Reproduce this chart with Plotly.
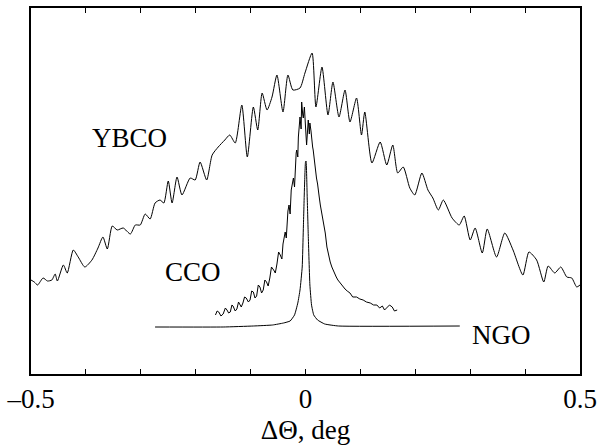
import plotly.graph_objects as go

# YBCO rocking curve (x in deg, intensity in arbitrary units)
ybco_x = [-0.500, -0.494, -0.488, -0.478, -0.470, -0.462, -0.456, -0.452, -0.441, -0.434,
          -0.423, -0.414, -0.402, -0.389, -0.378, -0.369, -0.361, -0.352, -0.343, -0.332,
          -0.319, -0.310, -0.301, -0.292, -0.283, -0.274, -0.265, -0.258, -0.250, -0.243,
          -0.234, -0.225, -0.210, -0.201, -0.192, -0.180, -0.170, -0.159, -0.147, -0.138,
          -0.128, -0.116, -0.106, -0.095, -0.087, -0.079, -0.070, -0.061, -0.052, -0.041,
          -0.032, -0.023, -0.010, -0.001, 0.012, 0.019, 0.030, 0.041, 0.050, 0.061,
          0.072, 0.081, 0.093, 0.102, 0.108, 0.121, 0.136, 0.148, 0.159, 0.168,
          0.178, 0.190, 0.199, 0.212, 0.223, 0.232, 0.242, 0.251, 0.267, 0.280,
          0.289, 0.300, 0.309, 0.322, 0.331, 0.348, 0.363, 0.378, 0.396, 0.407,
          0.421, 0.434, 0.442, 0.454, 0.465, 0.476, 0.485, 0.494, 0.500]
ybco_y = [97, 95, 92, 99, 96, 97, 103, 96, 112, 104,
          127, 120, 110, 117, 129, 140, 128, 151, 147, 149,
          143, 152, 152, 163, 158, 174, 177, 174, 196, 174,
          200, 182, 199, 197, 215, 197, 222, 230, 237, 242,
          234, 272, 220, 270, 247, 284, 267, 280, 302, 265,
          302, 287, 289, 304, 324, 270, 310, 262, 295, 260,
          287, 255, 279, 242, 265, 214, 235, 212, 232, 204,
          210, 189, 182, 204, 187, 179, 167, 177, 159, 152,
          161, 137, 149, 124, 148, 120, 144, 127, 102, 125,
          117, 95, 111, 104, 110, 100, 99, 90, 92]

# CCO rocking curve
cco_x = [-0.164, -0.161, -0.158, -0.154, -0.150, -0.146, -0.143, -0.140, -0.137, -0.134,
         -0.132, -0.128, -0.125, -0.122, -0.120, -0.117, -0.114, -0.111, -0.108, -0.104,
         -0.101, -0.098, -0.095, -0.092, -0.089, -0.086, -0.083, -0.080, -0.077, -0.074,
         -0.071, -0.068, -0.065, -0.062, -0.058, -0.055, -0.052, -0.049, -0.046, -0.043,
         -0.041, -0.039, -0.037, -0.035, -0.034, -0.032, -0.030, -0.028, -0.026, -0.024,
         -0.022, -0.020, -0.019, -0.017, -0.016, -0.014, -0.013, -0.011, -0.010, -0.008,
         -0.007, -0.005, -0.004, -0.002, -0.001, 0.001, 0.002, 0.004, 0.005, 0.007,
         0.008, 0.010, 0.011, 0.013, 0.014, 0.016, 0.017, 0.019, 0.020, 0.022,
         0.023, 0.025, 0.027, 0.029, 0.030, 0.032, 0.033, 0.035, 0.036, 0.039,
         0.041, 0.043, 0.045, 0.048, 0.050, 0.053, 0.056, 0.059, 0.063, 0.067,
         0.072, 0.076, 0.081, 0.086, 0.093, 0.099, 0.105, 0.111, 0.118, 0.124,
         0.130, 0.135, 0.140, 0.144, 0.148, 0.153, 0.158, 0.162, 0.167]
cco_y = [62, 66, 65, 61, 63, 69, 67, 64, 65, 72,
         71, 66, 68, 75, 73, 70, 74, 80, 79, 75,
         77, 86, 85, 79, 81, 92, 90, 84, 87, 97,
         95, 91, 99, 110, 107, 104, 113, 125, 122, 118,
         133, 141, 145, 139, 154, 166, 172, 163, 187, 195,
         199, 190, 210, 224, 227, 220, 240, 252, 260, 248,
         275, 262, 259, 270, 254, 241, 232, 250, 257, 243,
         254, 246, 237, 230, 227, 215, 210, 204, 199, 193,
         187, 180, 172, 166, 160, 158, 152, 149, 144, 130,
         124, 121, 115, 110, 107, 104, 100, 97, 94, 92,
         88, 86, 84, 80, 80, 78, 77, 75, 74, 72,
         72, 69, 71, 67, 69, 72, 70, 66, 67]

# NGO substrate rocking curve
ngo_x = [-0.274, -0.150, -0.095, -0.060, -0.040, -0.028, -0.020, -0.014, -0.010, -0.006,
         -0.004, -0.002, 0.000, 0.001, 0.003, 0.005, 0.008, 0.011, 0.015, 0.022,
         0.035, 0.060, 0.281]
ngo_y = [50, 50, 51, 52, 54, 56, 62, 74, 87, 110,
         147, 187, 215, 216, 182, 142, 92, 72, 62, 57,
         53, 51, 51]

tick_vals = [-0.5, -0.4, -0.3, -0.2, -0.1, 0.0, 0.1, 0.2, 0.3, 0.4, 0.5]
tick_text = ["\u20130.5", "", "", "", "", "0", "", "", "", "", "0.5"]

labels = ["YBCO", "CCO", "NGO"]
label_x = [-0.3925, -0.2596, 0.2996]
label_y = [239, 105, 42]

FONT = "Liberation Serif, Times New Roman, serif"
FS = 27

fig = go.Figure()
fig.add_trace(go.Scatter(x=ybco_x, y=ybco_y, mode="lines",
                         line=dict(color="black", width=1, shape="spline", smoothing=0.6),
                         showlegend=False))
fig.add_trace(go.Scatter(x=cco_x, y=cco_y, mode="lines",
                         line=dict(color="black", width=1), showlegend=False))
fig.add_trace(go.Scatter(x=ngo_x, y=ngo_y, mode="lines",
                         line=dict(color="black", width=1, shape="spline", smoothing=0.4),
                         showlegend=False))

for t, lx, ly in zip(labels, label_x, label_y):
    fig.add_annotation(x=lx, y=ly, text=t, showarrow=False, xanchor="left",
                       yanchor="middle", font=dict(family=FONT, size=FS, color="black"))

fig.update_layout(
    width=598, height=447,
    margin=dict(l=31, r=18, t=8, b=73),
    paper_bgcolor="white", plot_bgcolor="white",
    font=dict(family=FONT, size=FS, color="black"),
)
fig.update_xaxes(range=[-0.5, 0.5], tickmode="array", tickvals=tick_vals, ticktext=tick_text,
                 ticks="inside", ticklen=5, tickwidth=1, tickcolor="black",
                 showline=True, linecolor="black", linewidth=2, mirror="allticks",
                 showgrid=False, zeroline=False, automargin=False,
                 title=dict(text="\u0394\u0398, deg", font=dict(family=FONT, size=FS), standoff=7))
fig.update_yaxes(range=[3, 369], showticklabels=False, ticks="",
                 showline=True, linecolor="black", linewidth=2, mirror=True,
                 showgrid=False, zeroline=False)

# remove the browser's default 8px body margin so the figure fills the window exactly
fig.write_html("out.html", config={"displayModeBar": False},
               post_script="document.body.style.margin='0px';")
